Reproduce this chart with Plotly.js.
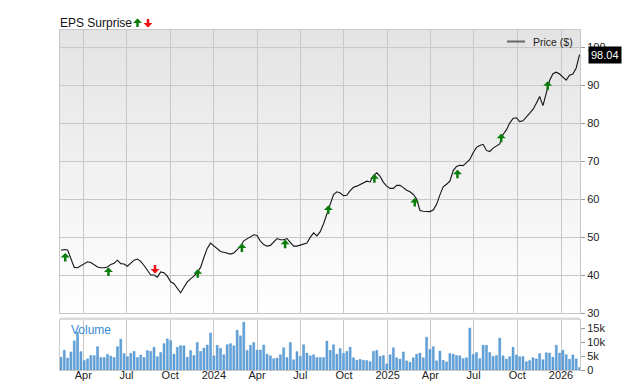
<!DOCTYPE html>
<html><head><meta charset="utf-8">
<script src="https://cdn.plot.ly/plotly-3.0.1.min.js"></script>
<style>html,body{margin:0;padding:0;background:#fff}#chart{width:640px;height:382px}</style>
</head><body><div id="chart"></div>
<script>
// ---------- DATA ----------
const weeks = [
'2023-02-13','2023-02-20','2023-02-27','2023-03-06','2023-03-13','2023-03-20','2023-03-27','2023-04-03','2023-04-10','2023-04-17','2023-04-24','2023-05-01','2023-05-08','2023-05-15','2023-05-22','2023-05-29','2023-06-05','2023-06-12','2023-06-19','2023-06-26','2023-07-03','2023-07-10','2023-07-17','2023-07-24','2023-07-31','2023-08-07','2023-08-14','2023-08-21','2023-08-28','2023-09-04','2023-09-11','2023-09-18','2023-09-25','2023-10-02','2023-10-09','2023-10-16','2023-10-23','2023-10-30','2023-11-06','2023-11-13','2023-11-20','2023-11-27','2023-12-04','2023-12-11','2023-12-18','2023-12-25',
'2024-01-01','2024-01-08','2024-01-15','2024-01-22','2024-01-29','2024-02-05','2024-02-12','2024-02-19','2024-02-26','2024-03-04','2024-03-11','2024-03-18','2024-03-25','2024-04-01','2024-04-08','2024-04-15','2024-04-22','2024-04-29','2024-05-06','2024-05-13','2024-05-20','2024-05-27','2024-06-03','2024-06-10','2024-06-17','2024-06-24','2024-07-01','2024-07-08','2024-07-15','2024-07-22','2024-07-29','2024-08-05','2024-08-12','2024-08-19','2024-08-26','2024-09-02','2024-09-09','2024-09-16','2024-09-23','2024-09-30','2024-10-07','2024-10-14','2024-10-21','2024-10-28','2024-11-04','2024-11-11','2024-11-18','2024-11-25','2024-12-02','2024-12-09','2024-12-16','2024-12-23','2024-12-30',
'2025-01-06','2025-01-13','2025-01-20','2025-01-27','2025-02-03','2025-02-10','2025-02-17','2025-02-24','2025-03-03','2025-03-10','2025-03-17','2025-03-24','2025-03-31','2025-04-07','2025-04-14','2025-04-21','2025-04-28','2025-05-05','2025-05-12','2025-05-19','2025-05-26','2025-06-02','2025-06-09','2025-06-16','2025-06-23','2025-06-30','2025-07-07','2025-07-14','2025-07-21','2025-07-28','2025-08-04','2025-08-11','2025-08-18','2025-08-25','2025-09-01','2025-09-08','2025-09-15','2025-09-22','2025-09-29','2025-10-06','2025-10-13','2025-10-20','2025-10-27','2025-11-03','2025-11-10','2025-11-17','2025-11-24','2025-12-01','2025-12-08','2025-12-15','2025-12-22','2025-12-29',
'2026-01-05','2026-01-12','2026-01-19','2026-01-26','2026-02-02','2026-02-09'];

const price = [
46.5,46.7,46.6,44.0,42.0,41.9,42.5,43.0,43.5,43.3,42.7,42.1,41.9,41.9,42.1,42.8,43.1,43.9,43.0,42.9,
42.3,43.1,43.9,44.2,43.6,42.5,41.2,40.0,40.0,39.4,40.8,40.6,39.7,38.2,37.7,36.6,35.3,36.8,38.2,39.0,
39.7,40.7,42.0,44.6,47.0,48.4,47.7,47.0,46.2,46.0,45.8,45.5,45.8,46.7,47.5,49.0,49.5,50.0,50.6,50.4,
48.9,48.0,47.6,47.8,48.8,49.6,49.3,49.3,49.6,48.5,47.6,47.6,47.9,48.3,48.4,49.9,51.1,50.3,51.4,53.5,
56.0,59.0,61.2,61.9,61.6,60.9,61.0,62.2,63.1,63.4,63.8,64.3,64.7,64.5,66.2,66.9,66.0,64.4,63.4,62.8,
62.8,63.6,63.6,63.0,62.3,61.9,61.2,60.0,57.0,56.8,56.8,56.7,57.1,58.6,61.1,63.2,63.9,64.7,67.5,68.6,
68.9,68.8,69.6,70.4,72.2,73.6,74.1,74.4,72.8,72.5,73.4,73.9,74.5,77.0,78.2,80.0,81.2,81.4,80.4,80.6,
81.6,82.8,83.6,85.2,87.0,84.6,87.8,91.2,93.0,93.4,92.9,92.0,91.3,92.6,92.9,94.5,98.04];

// weekly volume, thousands
const volume = [
4.6,7.1,4.3,6.5,10.5,13.7,6.6,3.4,4.0,5.2,5.2,8.4,4.5,4.5,5.6,5.0,4.5,8.4,11.1,5.9,
4.8,6.0,6.7,4.5,5.4,4.5,7.0,6.7,8.2,4.8,6.3,9.5,11.2,10.6,5.7,8.2,8.8,8.7,4.6,7.0,
5.2,9.9,6.7,7.9,9.0,13.3,5.1,8.9,7.8,5.5,9.1,9.5,8.7,14.3,12.3,17.2,7.0,8.9,9.9,7.2,
7.2,9.0,5.7,5.1,4.1,4.3,5.5,8.0,4.5,9.9,3.7,6.6,4.9,9.1,6.1,5.1,5.5,4.5,4.5,4.5,
10.4,7.1,9.1,5.7,7.7,6.0,6.7,8.2,4.4,3.5,3.8,3.5,3.4,3.0,6.7,7.1,4.9,5.2,2.2,5.5,
8.0,4.4,3.9,6.5,3.3,2.8,4.4,5.7,6.1,4.4,11.8,7.4,8.4,3.3,6.8,3.5,2.9,5.9,5.7,5.2,
5.1,4.1,4.4,15.1,5.6,6.3,4.1,8.9,8.9,6.3,4.9,5.2,11.5,5.1,3.9,4.8,8.2,5.4,4.8,4.8,
3.0,3.4,4.4,4.0,5.9,3.7,6.2,6.1,4.6,8.9,6.1,7.1,5.5,3.9,5.4,4.0,0.9];

const epsDates = ['2023-02-22','2023-05-24','2023-08-30','2023-11-28','2024-02-29','2024-05-30',
                  '2024-08-29','2024-12-04','2025-02-27','2025-05-28','2025-08-28','2025-12-04'];
const epsPrice = [45.8,42.0,40.4,41.5,48.3,49.3,58.3,66.5,60.3,67.7,77.2,91.0];
const epsDir   = ['up','up','down','up','up','up','up','up','up','up','up','up'];

const xTickVals = ['2023-04-01','2023-07-01','2023-10-01','2024-01-01','2024-04-01','2024-07-01',
                   '2024-10-01','2025-01-01','2025-04-01','2025-07-01','2025-10-01','2026-01-01'];
const xTickText = ['Apr','Jul','Oct','2024','Apr','Jul','Oct','2025','Apr','Jul','Oct','2026'];
const priceTicks = [30,40,50,60,70,80,90,100];
const volTicks = [0,5,10,15];
const volTickText = ['0','5k','10k','15k'];
const seriesName = 'Price ($)';
const titleText = 'EPS Surprise';
const volLabel = 'Volume';

// ---------- STYLE / LAYOUT ----------
const FONT = '"Liberation Sans", Arial, Helvetica, sans-serif';
const GRID = '#c8c8c8';
const UP = '#0b7d0b', DOWN = '#ee1111';
const W = 640, H = 382, ML = 60, MR = 60, MT = 30, MB = 12;
const PW = W - ML - MR, PH = H - MT - MB;
const px = x => (x - ML) / PW;          // pixel -> paper x
const py = y => (H - MB - y) / PH;      // pixel -> paper y
const priceDomain = [py(313), 1];
const volDomain = [0, py(320)];

const traces = [
  { type: 'bar', x: weeks, y: volume, xaxis: 'x', yaxis: 'y2', name: volLabel,
    marker: { color: '#64a3da', line: { color: '#3b84c6', width: 0.4 } },
    width: 4.3 * 86400000, showlegend: false, hoverinfo: 'skip' },
  { type: 'scatter', mode: 'lines', x: weeks, y: price, xaxis: 'x', yaxis: 'y', name: seriesName,
    line: { color: '#151515', width: 1.1 }, showlegend: false }
];

const shapes = [];
// gradient background of price panel
const N = 48;
for (let i = 0; i < N; i++) {
  const t0 = i / N, t1 = (i + 1) / N;
  const c = Math.round(227 + (255 - 227) * (1 - (t0 + t1) / 2));
  const y0 = priceDomain[0] + (1 - priceDomain[0]) * t0;
  const y1 = priceDomain[0] + (1 - priceDomain[0]) * t1 + 0.001;
  shapes.push({ type: 'rect', xref: 'paper', yref: 'paper', x0: 0, x1: 1, y0: y0, y1: Math.min(y1, 1),
    fillcolor: `rgb(${c},${c},${c})`, line: { width: 0 }, layer: 'below' });
}
// separator band
shapes.push({ type: 'rect', xref: 'paper', yref: 'paper', x0: 0, x1: 1, y0: py(320), y1: py(317.5),
  fillcolor: '#dadada', line: { width: 0 }, layer: 'above' });
// legend line
shapes.push({ type: 'line', xref: 'paper', yref: 'paper', x0: px(507), x1: px(525), y0: py(41.5), y1: py(41.5),
  line: { color: '#666', width: 2 } });
// last price pointer
const lastX = weeks[weeks.length - 1], lastY = price[price.length - 1];
shapes.push({ type: 'path', xref: 'x', yref: 'y', xsizemode: 'pixel', ysizemode: 'pixel',
  xanchor: lastX, yanchor: lastY, path: 'M2.5,0 L9,8 L9,-8 Z',
  fillcolor: '#000', line: { width: 0 }, layer: 'above' });

const annotations = [];
function arrowAnn(x, y, xref, yref, dir) {
  return { x: x, y: y, xref: xref, yref: yref, text: '', font: { size: 1 },
    showarrow: true, arrowhead: 1, arrowsize: 0.6, arrowwidth: 2.5,
    arrowcolor: dir === 'up' ? UP : DOWN, ax: 0, ay: dir === 'up' ? 10 : -10 };
}
epsDates.forEach((d, i) => annotations.push(arrowAnn(d, epsPrice[i], 'x', 'y', epsDir[i])));
// title arrows
annotations.push(arrowAnn(px(137.5), py(18.5), 'paper', 'paper', 'up'));
annotations.push(arrowAnn(px(148), py(27.5), 'paper', 'paper', 'down'));
// legend text
annotations.push({ xref: 'paper', yref: 'paper', x: px(531), y: py(41.5), xanchor: 'left', yanchor: 'middle',
  text: seriesName, showarrow: false, font: { family: FONT, size: 10.5, color: '#222' } });
// volume label
annotations.push({ xref: 'paper', yref: 'paper', x: px(69), y: py(330), xanchor: 'left', yanchor: 'middle',
  text: volLabel, showarrow: false, font: { family: FONT, size: 12, color: '#3a8ad0' } });
// last price box
annotations.push({ x: lastX, y: lastY, xref: 'x', yref: 'y', xanchor: 'left', yanchor: 'middle', xshift: 8.5,
  text: lastY.toFixed(2), showarrow: false, bgcolor: '#000', borderpad: 2,
  font: { family: FONT, size: 11, color: '#fff' } });

const axisCommon = { showline: true, linecolor: GRID, linewidth: 1, zeroline: false,
  tickfont: { family: FONT, size: 11, color: '#222' } };

const layout = {
  width: W, height: H,
  margin: { l: ML, r: MR, t: MT, b: MB, pad: 0 },
  paper_bgcolor: '#ffffff', plot_bgcolor: 'rgba(0,0,0,0)',
  font: { family: FONT },
  title: { text: titleText, x: ML / W, xanchor: 'left', xref: 'container', y: 1 - 22.5 / H, yanchor: 'middle',
    font: { family: FONT, size: 12, color: '#111' } },
  showlegend: false, bargap: 0,
  xaxis: Object.assign({}, axisCommon, { type: 'date', domain: [0, 1], anchor: 'y2',
    range: ['2023-02-11', '2026-02-10'], tickmode: 'array', tickvals: xTickVals, ticktext: xTickText,
    showgrid: true, gridcolor: GRID, gridwidth: 1, ticks: '', mirror: 'all', ticklabelstandoff: -5 }),
  yaxis: Object.assign({}, axisCommon, { domain: priceDomain, anchor: 'x', side: 'right',
    range: [30, 104.5], tickmode: 'array', tickvals: priceTicks,
    showgrid: true, gridcolor: GRID, gridwidth: 1, ticks: 'outside', ticklen: 4, tickcolor: '#999',
    mirror: true }),
  yaxis2: Object.assign({}, axisCommon, { domain: volDomain, anchor: 'x', side: 'right',
    range: [0, 18], tickmode: 'array', tickvals: volTicks, ticktext: volTickText,
    showgrid: false, ticks: 'outside', ticklen: 4, tickcolor: '#999', mirror: true }),
  shapes: shapes, annotations: annotations
};

Plotly.newPlot('chart', traces, layout, { staticPlot: true, displayModeBar: false });
</script>
</body></html>
